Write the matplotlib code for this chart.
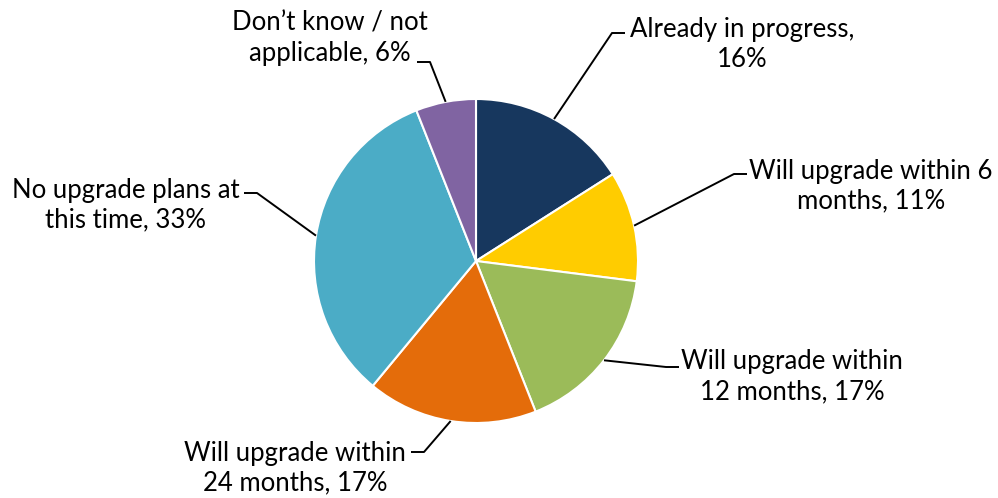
import numpy as np
import matplotlib.pyplot as plt

labels = ["Already in progress,\n16%", "Will upgrade within 6\nmonths, 11%",
          "Will upgrade within\n12 months, 17%", "Will upgrade within\n24 months, 17%",
          "No upgrade plans at\nthis time, 33%", "Don\u2019t know / not\napplicable, 6%"]
values = [16, 11, 17, 17, 33, 6]
colors = ["#17375E", "#FFCC00", "#9BBB59", "#E46C0A", "#4BACC6", "#8064A2"]

# label layout (pixel coords, y down): text centre, leader hook end, hook side
label_xy = [(742, 44), (871, 186), (792, 377), (295, 468), (126, 205), (330, 38)]
hook_xy = [(612, 33), (734, 174), (666, 367), (424, 452), (257, 193), (430, 62)]
hook_dir = [1, 1, 1, -1, -1, -1]

W, H = 998, 498
cx, cy, r = 476, 261, 162

fig = plt.figure(figsize=(W / 100, H / 100), dpi=100)
ax = fig.add_axes([0, 0, 1, 1])

wedges, _ = ax.pie(values, colors=colors, startangle=90, counterclock=False,
                   center=(cx, H - cy), radius=r,
                   wedgeprops=dict(edgecolor="white", linewidth=1.5))
ax.set_xlim(0, W)
ax.set_ylim(0, H)
ax.set_aspect("equal")
ax.axis("off")

for w, lab, (tx, ty), (hx, hy), d in zip(wedges, labels, label_xy, hook_xy, hook_dir):
    # leader starts at the middle of the wedge's arc
    a = np.radians((w.theta1 + w.theta2) / 2)
    ex = cx + r * np.cos(a)
    ey = (H - cy) + r * np.sin(a)
    ax.plot([ex, hx, hx + 13 * d], [ey, H - hy, H - hy], color="black", lw=1.4,
            solid_capstyle="butt")
    ax.text(tx, H - ty, lab, ha="center", va="center", fontsize=18.5,
            family="Lato", linespacing=1.25)

fig.savefig("out.png", dpi=100)
